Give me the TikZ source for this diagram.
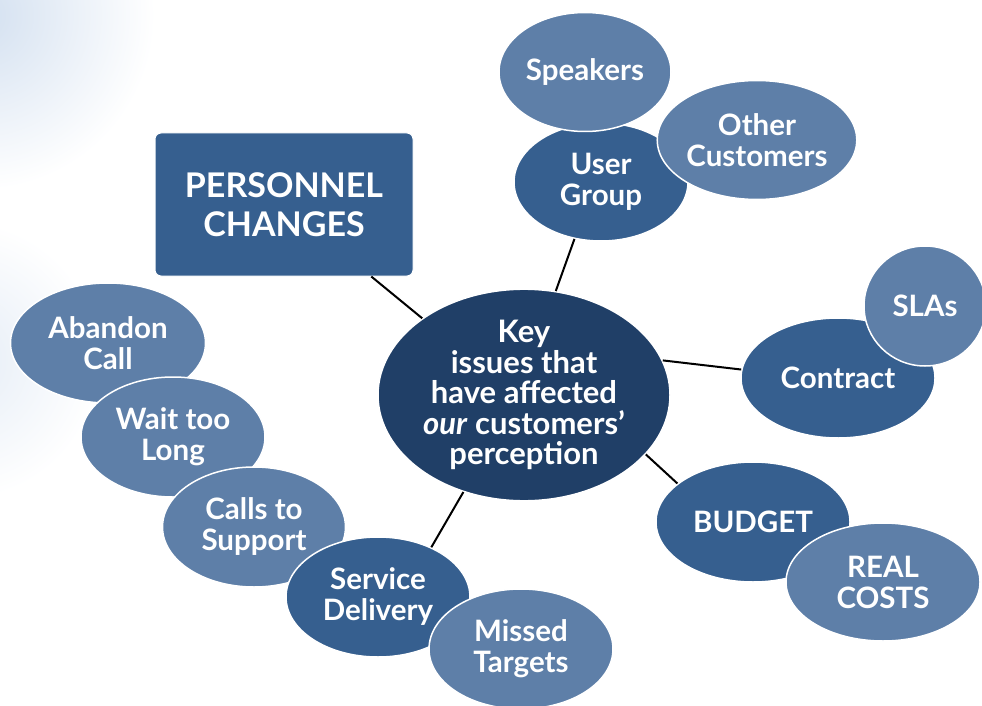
\documentclass[tikz,border=0pt]{standalone}
\usepackage{fontspec}
\setmainfont{Lato}
\usetikzlibrary{shapes.geometric}
\definecolor{keyblue}{HTML}{203F67}
\definecolor{midblue}{HTML}{365F8F}
\definecolor{lightblue}{HTML}{5E7FA8}
\definecolor{bgblue}{HTML}{D3E0F0}
\tikzset{
  blob/.style={ellipse, draw=white, line width=1.5pt, inner sep=0pt, text=white, align=center,
     font=\fontsize{29.5}{31}\selectfont\bfseries},
  midblob/.style={blob, fill=midblue},
  lightblob/.style={blob, fill=lightblue},
  link/.style={line width=2pt, black},
}
\begin{document}
\begin{tikzpicture}[x=1pt,y=-1pt]
\useasboundingbox (0,0) rectangle (982,706);
\clip (0,0) rectangle (982,706);
% background glow
\shade[inner color=bgblue, outer color=white] (-20,15) circle (175);
\shade[inner color=bgblue!60, outer color=white] (-40,360) circle (140);

% centre
\node[blob, fill=keyblue, minimum width=292pt, minimum height=186pt,
  font=\fontsize{31}{30.5}\selectfont\bfseries] (key) at (524,395)
  {Key\\issues that\\have affected\\\textit{our} customers’\\perception};

% personnel box
\node[rectangle, rounded corners=6pt, fill=midblue, draw=white, line width=1pt, text=white,
  minimum width=258pt, minimum height=143pt, align=center,
  font=\fontsize{34}{39}\selectfont\bfseries] (pers) at (284,204.5) {PERSONNEL\\CHANGES};

% user group cluster
\node[midblob, minimum width=174pt, minimum height=118pt] (ug) at (601,182) {\strut User\\Group};
\node[lightblob, minimum width=172pt, minimum height=119pt] (spk) at (585,72) {Speakers};
\node[lightblob, minimum width=195pt, minimum height=119pt] (oc) at (757,140) {Other\\Customers};

% contract
\node[midblob, minimum width=194pt, minimum height=120pt] (con) at (838,378) {Contract};
\node[lightblob, minimum width=122pt, minimum height=120pt] (sla) at (925,306) {SLAs};

% budget
\node[midblob, minimum width=194pt, minimum height=120pt] (bud) at (753,522) {BUDGET};
\node[lightblob, minimum width=194pt, minimum height=118pt] (rc) at (883,582) {REAL\\COSTS};

% service delivery chain
\node[lightblob, minimum width=195pt, minimum height=120pt] (ab) at (108,343) {Abandon\\Call};
\node[lightblob, minimum width=184pt, minimum height=120pt] (wait) at (173,437) {Wait too\\Long};
\node[lightblob, minimum width=183pt, minimum height=120pt] (cts) at (254,527) {Calls to\\Support};
\node[midblob, minimum width=184pt, minimum height=120pt] (sd) at (378,597) {Service\\Delivery};
\node[lightblob, minimum width=184pt, minimum height=120pt] (mt) at (521,649) {Missed\\Targets};

% connectors
\draw[link] (key.143) -- (pers);
\draw[link] (key.73) -- (ug.245);
\draw[link] (key.14) -- (con.175);
\draw[link] (key.334) -- (bud.153);
\draw[link] (key.238) -- (sd.43);
\end{tikzpicture}
\end{document}
